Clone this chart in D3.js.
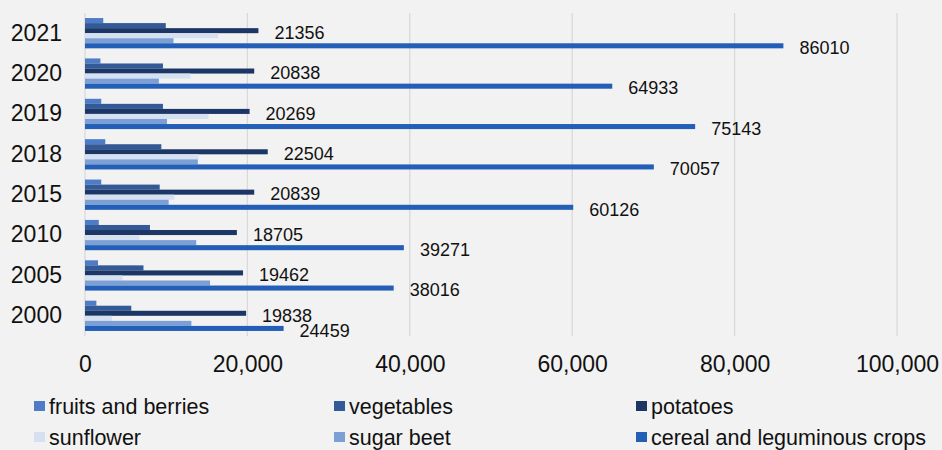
<!DOCTYPE html>
<html>
<head>
<meta charset="utf-8">
<script src="https://cdn.jsdelivr.net/npm/d3@7"></script>
<style>
  body { margin: 0; background: #f2f2f2; }
  svg { display: block; font-family: "Liberation Sans", Arial, sans-serif; }
</style>
</head>
<body>
<div id="viz"></div>
<script>
// years, top to bottom as drawn
var years = ["2021", "2020", "2019", "2018", "2015", "2010", "2005", "2000"];

var seriesNames = ["fruits and berries", "vegetables", "potatoes", "sunflower", "sugar beet", "cereal and leguminous crops"];
var seriesColors = ["#4f7cc6", "#335a97", "#1c3766", "#d5e0f1", "#7c9fd6", "#235fb7"];

// values per series, same order as years
var fruits = [2250, 1900, 2000, 2500, 2000, 1700, 1600, 1400];
var vegetables = [9950, 9600, 9600, 9400, 9200, 8000, 7200, 5700];
var potatoes = [21356, 20838, 20269, 22504, 20839, 18705, 19462, 19838];
var sunflower = [16400, 13000, 15200, 14000, 11000, 6700, 4600, 3300];
var sugarBeet = [10900, 9100, 10100, 13900, 10300, 13700, 15400, 13100];
var cereal = [86010, 64933, 75143, 70057, 60126, 39271, 38016, 24459];

var xTicks = [0, 20000, 40000, 60000, 80000, 100000];

// series that get a value label
var labelled = ["potatoes", "cereal and leguminous crops"];

var allSeries = [fruits, vegetables, potatoes, sunflower, sugarBeet, cereal];

var width = 942, height = 450;

var svg = d3.select("#viz")
    .append("svg")
    .attr("width", width)
    .attr("height", height);

var x = d3.scaleLinear()
    .domain([0, 100000])
    .range([85, 897]);

var y0 = d3.scaleBand()
    .domain(years)
    .range([13, 336])
    .paddingInner(0.25)
    .paddingOuter(0.125);

var y1 = d3.scaleBand()
    .domain(seriesNames)
    .range([0, y0.bandwidth()])
    .padding(0);

// gridlines
svg.append("g")
    .selectAll("line")
    .data(xTicks)
    .enter()
    .append("line")
    .attr("x1", function (d) { return x(d); })
    .attr("x2", function (d) { return x(d); })
    .attr("y1", 13)
    .attr("y2", 336)
    .attr("stroke", "#d9d9d9")
    .attr("stroke-width", 1.3);

// x axis labels
var xAxis = svg.append("g")
    .attr("transform", "translate(0,336)")
    .call(d3.axisBottom(x).tickValues(xTicks).tickFormat(d3.format(",")).tickSize(0).tickPadding(20));
xAxis.select(".domain").remove();
xAxis.selectAll("text")
    .style("font-size", "23px")
    .style("fill", "#111");

// y axis labels
var yAxis = svg.append("g")
    .attr("transform", "translate(62,0)")
    .call(d3.axisLeft(y0).tickSize(0).tickPadding(0));
yAxis.select(".domain").remove();
yAxis.selectAll("text")
    .style("font-size", "23px")
    .style("fill", "#111");

// rows of data, one per series
var rows = seriesNames.map(function (name, i) {
    return { name: name, color: seriesColors[i], values: allSeries[i] };
});

var groups = svg.append("g")
    .selectAll("g")
    .data(years)
    .enter()
    .append("g")
    .attr("transform", function (d) { return "translate(0," + y0(d) + ")"; });

groups.selectAll("rect")
    .data(function (yr, yi) {
        return rows.map(function (r) { return { name: r.name, color: r.color, value: r.values[yi] }; });
    })
    .enter()
    .append("rect")
    .attr("x", x(0))
    .attr("y", function (d) { return y1(d.name); })
    .attr("width", function (d) { return x(d.value) - x(0); })
    .attr("height", y1.bandwidth())
    .attr("fill", function (d) { return d.color; });

groups.selectAll("text")
    .data(function (yr, yi) {
        return rows.filter(function (r) { return labelled.indexOf(r.name) >= 0; })
            .map(function (r) { return { name: r.name, value: r.values[yi] }; });
    })
    .enter()
    .append("text")
    .attr("x", function (d) { return x(d.value) + 16; })
    .attr("y", function (d) { return y1(d.name) + y1.bandwidth() / 2 + 2; })
    .attr("dy", "0.35em")
    .style("font-size", "18px")
    .style("fill", "#111")
    .text(function (d) { return d.value; });

// legend, three columns by two rows
var legendX = [34, 334, 636], legendY = [406, 437];
var legend = svg.append("g")
    .selectAll("g")
    .data(rows)
    .enter()
    .append("g")
    .attr("transform", function (d, i) {
        return "translate(" + legendX[i % 3] + "," + legendY[Math.floor(i / 3)] + ")";
    });

legend.append("rect")
    .attr("x", 0)
    .attr("y", -5)
    .attr("width", 11)
    .attr("height", 10)
    .attr("fill", function (d) { return d.color; });

legend.append("text")
    .attr("x", 15)
    .attr("y", 0)
    .attr("dy", "0.35em")
    .style("font-size", "21.5px")
    .style("fill", "#111")
    .text(function (d) { return d.name; });
</script>
</body>
</html>
